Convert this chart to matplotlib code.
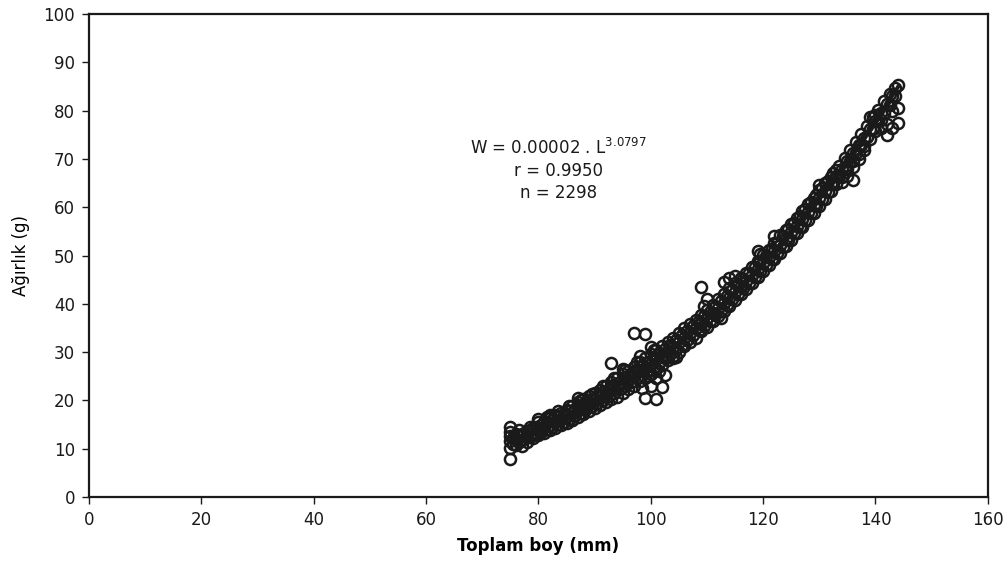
#!/usr/bin/env python3
"""Length-weight relationship scatter: Toplam boy (mm) vs Ağırlık (g)."""

import matplotlib
matplotlib.use("Agg")
import matplotlib.pyplot as plt

# ---------------------------------------------------------------------------
# Data
# ---------------------------------------------------------------------------
# fish measured at whole millimetres
length_mm = (
    [75] * 6 + [76] * 3 + [77] * 3 + [78] * 3 + [79] * 3 + [80] * 4 + [81] * 3
    + [82] * 4 + [83] * 3 + [84] * 3 + [85] * 3 + [86] * 4 + [87] * 4 + [88] * 3
    + [89] * 3 + [90] * 3 + [91] * 3 + [92] * 3 + [93] * 4 + [94] * 3 + [95] * 4
    + [96] * 3 + [97] * 4 + [98] * 4 + [99] * 5 + [100] * 5 + [101] * 5
    + [102] * 4 + [103] * 3 + [104] * 4 + [105] * 3 + [106] * 3 + [107] * 3
    + [108] * 3 + [109] * 4 + [110] * 4 + [111] * 3 + [112] * 3 + [113] * 4
    + [114] * 4 + [115] * 4 + [116] * 3 + [117] * 3 + [118] * 3 + [119] * 4
    + [120] * 3 + [121] * 3 + [122] * 4 + [123] * 3 + [124] * 3 + [125] * 3
    + [126] * 3 + [127] * 3 + [128] * 3 + [129] * 3 + [130] * 4 + [131] * 3
    + [132] * 3 + [133] * 3 + [134] * 3 + [135] * 3 + [136] * 4 + [137] * 3
    + [138] * 3 + [139] * 3 + [140] * 3 + [141] * 3 + [142] * 3 + [143] * 3
    + [144] * 3
)

weight_g = [
    7.8, 10.2, 11.5, 12.6, 13.4, 14.6,
    10.8, 12.0, 13.0,
    10.5, 11.8, 12.9,
    11.4, 12.5, 13.6,
    12.2, 13.3, 14.3,
    12.8, 14.0, 15.6, 16.2,
    13.3, 14.4, 15.5,
    13.8, 15.0, 16.3, 17.0,
    14.3, 15.6, 16.9,
    14.9, 16.2, 17.4,
    15.4, 16.8, 18.1,
    15.9, 17.3, 18.8, 16.0,
    16.6, 18.0, 19.6, 20.5,
    17.2, 18.6, 20.3,
    17.9, 19.3, 20.9,
    18.4, 20.0, 21.6,
    19.1, 20.7, 22.2,
    19.7, 21.3, 23.0,
    20.2, 22.1, 23.8, 27.7,
    20.8, 22.8, 24.6,
    21.5, 23.6, 25.5, 26.6,
    22.4, 24.3, 26.1,
    23.0, 25.1, 27.0, 34.0,
    24.0, 26.0, 27.9, 29.2,
    20.5, 24.6, 26.8, 28.8, 33.8,
    23.0, 25.4, 27.6, 29.6, 31.0,
    24.6, 26.5, 28.5, 30.4, 20.3,
    22.8, 27.3, 29.3, 31.2,
    28.3, 30.2, 32.0,
    28.8, 29.3, 31.1, 33.0,
    30.1, 32.0, 34.0,
    31.2, 33.0, 35.0,
    32.2, 34.0, 35.8,
    33.0, 35.0, 36.6,
    34.3, 36.0, 37.6, 43.5,
    35.3, 37.0, 38.8, 41.0,
    36.4, 38.0, 39.8,
    37.5, 39.1, 40.9,
    38.5, 40.2, 42.0, 44.5,
    39.6, 41.3, 43.2, 45.3,
    40.8, 42.4, 44.3, 45.8,
    42.0, 43.6, 45.3,
    43.1, 44.8, 46.4,
    44.4, 46.0, 47.6,
    45.6, 47.2, 48.8, 51.0,
    46.8, 48.4, 50.1,
    48.0, 49.6, 51.2,
    49.3, 50.9, 52.6, 54.0,
    50.6, 52.2, 54.3,
    52.0, 53.5, 55.2,
    53.3, 54.9, 56.5,
    54.6, 56.2, 57.8,
    56.0, 57.6, 59.2,
    57.4, 59.0, 60.6,
    58.8, 60.4, 62.0,
    60.3, 61.9, 63.5, 64.5,
    61.8, 63.4, 65.0,
    63.3, 64.9, 66.2,
    64.8, 66.4, 67.8,
    66.3, 68.0, 65.2,
    67.9, 69.6, 66.5,
    69.5, 71.2, 65.6, 68.3,
    71.0, 72.8, 70.0,
    72.6, 74.4, 71.8,
    74.2, 76.1, 78.7,
    75.8, 77.8, 79.0,
    76.5, 79.5, 78.0,
    75.0, 77.3, 81.3,
    76.5, 80.0, 83.0,
    77.4, 80.5, 85.3,
]

# fish measured at half millimetres (fill the dense band)
half_length_mm = (
    [75.5] * 2 + [76.5] * 3 + [77.5] * 2 + [78.5] * 3 + [79.5] * 2 + [80.5] * 2
    + [81.5] * 3 + [82.5] * 2 + [83.5] * 3 + [84.5] * 2 + [85.5] * 3 + [86.5] * 2
    + [87.5] * 3 + [88.5] * 2 + [89.5] * 3 + [90.5] * 2 + [91.5] * 3 + [92.5] * 2
    + [93.5] * 3 + [94.5] * 2 + [95.5] * 3 + [96.5] * 2 + [97.5] * 3 + [98.5] * 3
    + [99.5] * 3 + [100.5] * 3 + [101.5] * 3 + [102.5] * 3 + [103.5] * 2
    + [104.5] * 3 + [105.5] * 2 + [106.5] * 2 + [107.5] * 2 + [108.5] * 2
    + [109.5] * 3 + [110.5] * 2 + [111.5] * 2 + [112.5] * 3 + [113.5] * 2
    + [114.5] * 2 + [115.5] * 2 + [116.5] * 2 + [117.5] * 2 + [118.5] * 2
    + [119.5] * 3 + [120.5] * 2 + [121.5] * 2 + [122.5] * 2 + [123.5] * 2
    + [124.5] * 2 + [125.5] * 2 + [126.5] * 2 + [127.5] * 2 + [128.5] * 2
    + [129.5] * 2 + [130.5] * 2 + [131.5] * 2 + [132.5] * 2 + [133.5] * 2
    + [134.5] * 2 + [135.5] * 2 + [136.5] * 2 + [137.5] * 2 + [138.5] * 2
    + [139.5] * 2 + [140.5] * 2 + [141.5] * 2 + [142.5] * 2 + [143.5] * 2
)

half_weight_g = [
    11.0, 12.2,
    11.4, 12.8, 13.8,
    12.0, 13.3,
    12.4, 13.9, 14.6,
    13.0, 14.4,
    13.5, 15.0,
    14.0, 15.6, 16.6,
    14.6, 16.0,
    15.2, 16.6, 17.8,
    15.6, 17.2,
    16.2, 17.8, 18.9,
    16.9, 18.3,
    17.5, 19.0, 20.1,
    18.2, 19.6,
    18.8, 20.4, 21.4,
    19.5, 21.0,
    20.1, 21.8, 23.0,
    20.9, 22.4,
    21.5, 23.2, 24.6,
    22.3, 23.9,
    23.0, 24.8, 26.2,
    23.8, 25.5,
    24.6, 26.3, 28.0,
    25.3, 27.2, 22.5,
    26.1, 28.0, 25.0,
    26.9, 28.9, 30.5,
    27.8, 29.8, 26.0,
    28.7, 30.6, 25.3,
    29.6, 31.5,
    30.6, 32.6, 29.0,
    31.5, 33.5,
    32.5, 34.4,
    33.5, 35.4,
    34.5, 36.4,
    35.5, 37.4, 39.6,
    36.5, 38.4,
    37.6, 39.4,
    38.6, 40.6, 37.0,
    39.8, 41.7,
    40.9, 42.8,
    42.0, 44.0,
    43.2, 45.2,
    44.4, 46.4,
    45.6, 47.6,
    46.8, 48.9, 50.3,
    48.0, 50.0,
    49.2, 51.3,
    50.6, 52.6,
    51.8, 54.0,
    53.2, 55.4,
    54.6, 56.8,
    56.0, 58.2,
    57.4, 59.6,
    58.8, 61.0,
    60.2, 62.6,
    61.8, 64.0,
    63.2, 65.4,
    64.8, 67.0,
    66.4, 68.6,
    68.0, 70.2,
    69.6, 71.8,
    71.2, 73.5,
    72.8, 75.2,
    74.5, 76.8,
    76.2, 78.6,
    77.8, 80.2,
    79.6, 81.9,
    81.2, 83.4,
    83.0, 84.6,
]

# fitted curve, as drawn in the figure
fit_length = [75, 80, 85, 90, 95, 100, 105, 110, 115, 120, 125, 130, 135, 140, 144]
fit_weight = [11.4, 13.9, 16.7, 20.0, 23.6, 27.6, 32.1, 37.0, 42.4, 48.4, 54.9,
              61.9, 69.6, 77.8, 84.9]

x_ticks = [0, 20, 40, 60, 80, 100, 120, 140, 160]
y_ticks = [0, 10, 20, 30, 40, 50, 60, 70, 80, 90, 100]

INK = "#1a1a1a"


def main() -> None:
    plt.rcParams.update(
        {
            "font.family": ["DejaVu Sans"],
            "font.size": 12,
        }
    )

    fig = plt.figure(figsize=(10.08, 5.70), dpi=100)
    ax = fig.add_axes([0.0883, 0.128, 0.8917, 0.8474])

    marker_kw = dict(linestyle="none", marker="o", markersize=8.0,
                     markerfacecolor="none", markeredgecolor=INK,
                     markeredgewidth=1.8, zorder=3)
    ax.plot(length_mm, weight_g, **marker_kw)
    ax.plot(half_length_mm, half_weight_g, **marker_kw)
    ax.plot(fit_length, fit_weight, color=INK, linewidth=2.8, zorder=4)

    ax.set_xlim(0, 160)
    ax.set_ylim(0, 100)
    ax.set_xticks(x_ticks)
    ax.set_yticks(y_ticks)
    ax.tick_params(axis="both", direction="out", length=5, width=1.0,
                   colors=INK, labelsize=12, pad=5)
    for s in ax.spines.values():
        s.set_color(INK)
        s.set_linewidth(1.6)

    ax.set_xlabel("Toplam boy (mm)", fontweight="bold", fontsize=12, labelpad=6)
    ax.set_ylabel("Ağırlık (g)", fontsize=12, labelpad=10)

    ax.text(83.5, 72.3, r"W = 0.00002 . L$^{\mathregular{3.0797}}$",
            ha="center", va="center", fontsize=12, color=INK)
    ax.text(83.5, 67.6, "r = 0.9950", ha="center", va="center",
            fontsize=12, color=INK)
    ax.text(83.5, 62.9, "n = 2298", ha="center", va="center",
            fontsize=12, color=INK)

    fig.savefig("out.png", dpi=100)


if __name__ == "__main__":
    main()
